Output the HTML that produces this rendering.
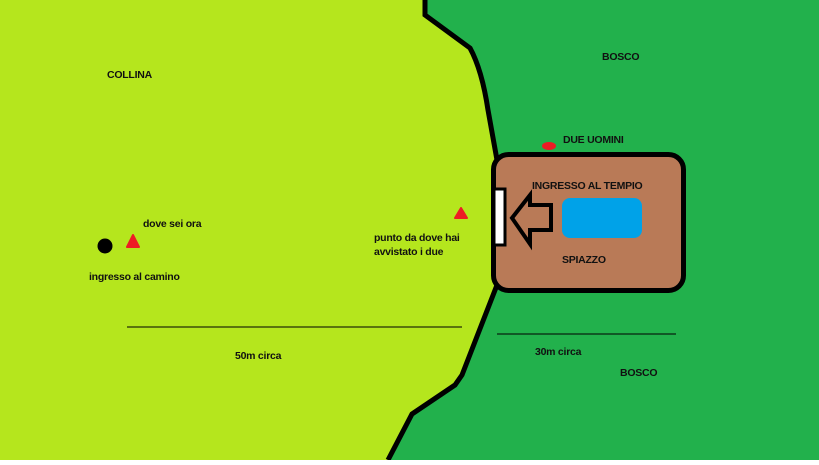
<!DOCTYPE html>
<html><head><style>body{margin:0}svg text{font-family:"Liberation Sans",sans-serif;font-size:10.5px;letter-spacing:-0.25px;font-weight:bold;fill:#111}</style></head><body>
<svg width="819" height="460" xmlns="http://www.w3.org/2000/svg">
<rect width="819" height="460" fill="#22b14c"/>
<path d="M0,0 L425,0 L425,15 L470,48 Q482,70 488,110 L497,160 L497,285 L462,375 L455,385 L412,414 L388,460 L0,460 Z" fill="#b5e61d"/>
<path d="M425,0 L425,15 L470,48 Q482,70 488,110 L497,160 M497,285 L462,375 L455,385 L412,414 L388,460" fill="none" stroke="#000" stroke-width="5"/>
<rect x="493.5" y="154.5" width="190" height="136" rx="15" fill="#b97a57" stroke="#000" stroke-width="5"/>
<rect x="494" y="189" width="11" height="56" fill="#fff" stroke="#000" stroke-width="3"/>
<polygon points="512,218 530,195 530,205 551,205 551,230 530,230 530,244" fill="#b97a57" stroke="#000" stroke-width="4"/>
<rect x="562" y="198" width="80" height="40" rx="8" fill="#00a2e8"/>
<ellipse cx="549" cy="146" rx="7" ry="4" fill="#ed1c24"/>
<polygon points="133,235 127,247 139,247" fill="#ed1c24" stroke="#ed1c24" stroke-width="2" stroke-linejoin="round"/>
<polygon points="461,208 455,218 467,218" fill="#ed1c24" stroke="#ed1c24" stroke-width="2" stroke-linejoin="round"/>
<circle cx="105" cy="246" r="7.5" fill="#000"/>
<line x1="127" y1="327" x2="462" y2="327" stroke="#000" stroke-width="1"/>
<line x1="497" y1="334" x2="676" y2="334" stroke="#000" stroke-width="1"/>
<text x="107" y="78">COLLINA</text>
<text x="602" y="60">BOSCO</text>
<text x="563" y="143">DUE UOMINI</text>
<text x="532" y="189">INGRESSO AL TEMPIO</text>
<text x="562" y="263">SPIAZZO</text>
<text x="143" y="227">dove sei ora</text>
<text x="89" y="280">ingresso al camino</text>
<text x="374" y="241">punto da dove hai</text>
<text x="374" y="255">avvistato i due</text>
<text x="235" y="359">50m circa</text>
<text x="535" y="355">30m circa</text>
<text x="620" y="376">BOSCO</text>
</svg>
</body></html>
